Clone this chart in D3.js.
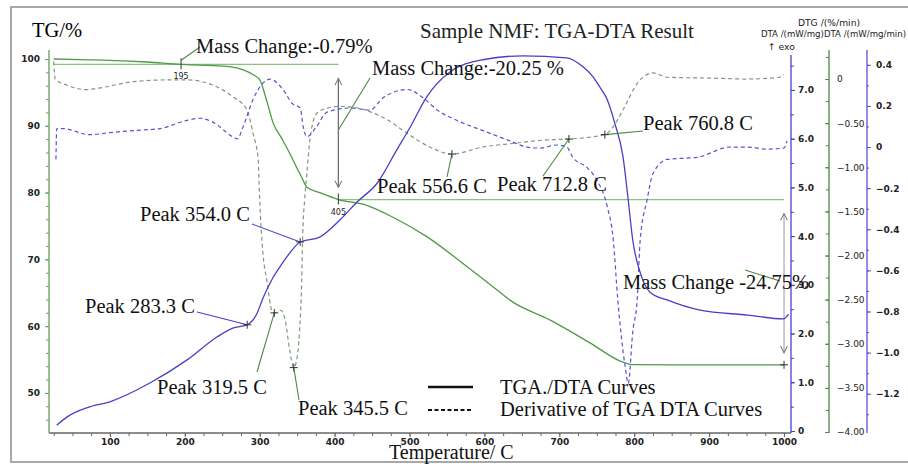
<!DOCTYPE html>
<html>
<head>
<meta charset="utf-8">
<script src="https://cdn.jsdelivr.net/npm/d3@7"></script>
<style>
  body { margin: 0; background: #fff; }
  svg { display: block; }
</style>
</head>
<body>
<svg id="chart" width="908" height="464"></svg>
<script>
// ---- Sample NMF: thermogravimetric / differential thermal analysis ----

// TG (mass %, solid green)
const tgTemp = [25, 60, 100, 150, 195, 230, 260, 280, 292, 300, 310, 318, 330, 340, 350, 356, 363, 380, 405, 443, 478, 523, 577, 617, 634, 688, 741, 785, 797, 850, 900, 950, 1000];
const tgMass = [100.0, 99.9, 99.8, 99.55, 99.21, 99.05, 98.85, 98.3, 97.6, 96.9, 93.5, 90.4, 88.0, 85.9, 83.6, 82.3, 80.8, 80.0, 78.96, 78.1, 76.3, 73.4, 68.9, 65.4, 63.9, 60.9, 57.5, 54.6, 54.25, 54.2, 54.2, 54.2, 54.21];

// DTA (mW/mg, solid blue)
const dtaTemp = [29, 43, 70, 100, 154, 203, 243, 264, 283.3, 296, 305, 316, 327, 340, 354.0, 380, 407, 430, 457, 483, 501, 523, 554, 598, 652, 710, 732, 745, 754, 764, 774, 785, 792, 798, 808, 821, 844, 888, 951, 999, 1006];
const dtaValue = [0.12, 0.29, 0.48, 0.60, 0.99, 1.46, 1.93, 2.11, 2.18, 2.40, 2.75, 3.10, 3.37, 3.65, 3.88, 3.98, 4.33, 4.70, 5.09, 5.77, 6.24, 6.86, 7.37, 7.62, 7.70, 7.66, 7.47, 7.27, 7.06, 6.80, 6.32, 5.63, 4.74, 3.92, 3.25, 2.85, 2.69, 2.48, 2.38, 2.30, 2.40];

// DTG (%/min, dashed green)
const dtgTemp = [25, 27, 43, 69, 87, 131, 176, 203, 238, 264, 283, 291, 298, 300, 304, 310, 316, 319.5, 328, 334, 340, 345.5, 350, 353, 356, 357.5, 360, 363, 367, 376, 390, 407, 425, 447, 470, 496, 527, 556.6, 598, 638, 683, 712.8, 760.8, 772, 785, 804, 825, 844, 905, 950, 994, 1000];
const dtgValue = [0.20, 0.0, -0.07, -0.12, -0.10, -0.03, -0.01, -0.01, -0.07, -0.20, -0.35, -0.61, -0.92, -1.37, -1.94, -2.31, -2.62, -2.65, -2.62, -2.73, -3.07, -3.27, -3.15, -2.88, -2.31, -1.74, -1.37, -1.07, -0.69, -0.39, -0.33, -0.31, -0.32, -0.37, -0.46, -0.61, -0.77, -0.85, -0.77, -0.73, -0.69, -0.68, -0.63, -0.54, -0.35, -0.05, 0.07, 0.02, 0.01, 0.0, 0.02, 0.05];

// DDTA (mW/mg/min, dashed blue)
const ddtaTemp = [28, 29, 37, 73, 100, 131, 167, 203, 220, 238, 264, 270, 278, 291, 304, 314, 331, 344, 354, 358, 363, 376, 390, 421, 447, 465, 497, 518, 537, 563, 598, 634, 657, 674, 697, 710, 718, 737, 750, 764, 772, 778, 788, 792, 798, 804, 808, 817, 825, 844, 884, 928, 951, 977, 1000, 1004];
const ddtaValue = [-0.06, 0.09, 0.09, 0.06, 0.07, 0.08, 0.09, 0.13, 0.14, 0.12, 0.05, 0.04, 0.10, 0.23, 0.31, 0.33, 0.28, 0.21, 0.19, 0.10, 0.05, 0.10, 0.17, 0.19, 0.18, 0.24, 0.28, 0.24, 0.18, 0.13, 0.08, 0.03, 0.0, -0.005, 0.01, 0.0, -0.05, -0.10, -0.16, -0.29, -0.45, -0.74, -1.07, -1.15, -0.90, -0.74, -0.45, -0.26, -0.13, -0.06, -0.05, 0.0, 0.0, -0.01, -0.005, 0.03];

// Peak temperatures and mass-change steps
const dtaPeaks = [283.3, 354.0];
const dtgPeaks = [319.5, 345.5, 556.6, 712.8, 760.8];
const stepTemps = [195, 405, 1000];
const stepChanges = [-0.79, -20.25, -24.75];

// Tick values
const xMajorTicks = [100, 200, 300, 400, 500, 600, 700, 800, 900, 1000];
const tgMajorTicks = [50, 60, 70, 80, 90, 100];
const dtaMajorTicks = [0, 1, 2, 3, 4, 5, 6, 7];
const dtgMajorTicks = [0, -0.5, -1, -1.5, -2, -2.5, -3, -3.5, -4];
const ddtaMajorTicks = [0.4, 0.2, 0, -0.2, -0.4, -0.6, -0.8, -1.0, -1.2];

// ---- drawing ----
const svg = d3.select("#chart");
const SERIF = "'Liberation Serif', 'DejaVu Serif', serif";
const SANS = "'DejaVu Sans', Verdana, sans-serif";

const C_TG = "#4f9a45", C_DTG = "#7d9a7d", C_DTA = "#4a3fc4", C_DDTA = "#5c52d0";

const x = d3.scaleLinear().domain([18.7, 1009.3]).range([49, 791]);
const yTG = d3.scaleLinear().domain([44.0, 101.35]).range([433, 50]);
const yDTA = d3.scaleLinear().domain([-0.041, 7.82]).range([433, 50]);
const yDTG = d3.scaleLinear().domain([-4.011, 0.329]).range([433, 50]);
const yDDTA = d3.scaleLinear().domain([-1.391, 0.472]).range([433, 50]);

// outer frame
svg.append("rect").attr("x", 11).attr("y", 7).attr("width", 1000).attr("height", 455)
  .attr("fill", "none").attr("stroke", "#a8a8a8").attr("stroke-width", 2);

function styleAxis(g, color) {
  g.selectAll("path.domain").remove();
  g.selectAll("line").attr("stroke", color);
  g.selectAll("text").attr("fill", "#222").attr("font-family", SANS)
    .attr("font-size", 9).attr("font-weight", "bold");
}

// x axis
const gx = svg.append("g").attr("transform", "translate(0,433)");
gx.append("g").call(d3.axisBottom(x).tickValues(d3.range(25, 1001, 25)).tickSize(3).tickFormat(""))
  .call(g => styleAxis(g, "#666"));
gx.append("g").call(d3.axisBottom(x).tickValues(xMajorTicks).tickSize(4).tickPadding(2).tickFormat(d3.format("d")))
  .call(g => styleAxis(g, "#666"));
gx.append("line").attr("x1", 49).attr("x2", 791).attr("stroke", "#666").attr("stroke-width", 1.5);

// TG axis (left)
const gtg = svg.append("g").attr("transform", "translate(49,0)");
gtg.append("g").call(d3.axisLeft(yTG).tickValues(d3.range(46, 101, 2)).tickSize(3).tickFormat(""))
  .call(g => styleAxis(g, "#6a9a60"));
gtg.append("g").call(d3.axisLeft(yTG).tickValues(tgMajorTicks).tickSize(4).tickPadding(5))
  .call(g => styleAxis(g, "#6a9a60"));
gtg.append("line").attr("y1", 50).attr("y2", 433).attr("stroke", "#7aaa70").attr("stroke-width", 1.5);

// DTA axis
const gdta = svg.append("g").attr("transform", "translate(791,0)");
gdta.append("g").call(d3.axisRight(yDTA).tickValues(d3.range(0.5, 7.6, 0.5)).tickSize(3).tickFormat(""))
  .call(g => styleAxis(g, C_DTA));
gdta.append("g").call(d3.axisRight(yDTA).tickValues(dtaMajorTicks).tickSize(4).tickPadding(3)
    .tickFormat(d => d === 0 ? "0" : d3.format(".1f")(d)))
  .call(g => styleAxis(g, C_DTA));
gdta.append("line").attr("y1", 55).attr("y2", 433).attr("stroke", C_DTA).attr("stroke-width", 1.3);

// DTG axis
const gdtg = svg.append("g").attr("transform", "translate(829,0)");
gdtg.append("g").call(d3.axisRight(yDTG).tickValues(d3.range(0.25, -4.0, -0.25)).tickSize(-3).tickFormat(""))
  .call(g => styleAxis(g, "#4a8a40"));
gdtg.append("g").call(d3.axisRight(yDTG).tickValues(dtgMajorTicks).tickSize(-4).tickPadding(8)
    .tickFormat(d => d === 0 ? "0" : d3.format(".2f")(d)))
  .call(g => styleAxis(g, "#4a8a40"));
gdtg.selectAll("text").attr("font-weight", "normal");
gdtg.append("line").attr("y1", 50).attr("y2", 433).attr("stroke", "#4a8a40").attr("stroke-width", 1.3);

// DDTA axis
const gddta = svg.append("g").attr("transform", "translate(867,0)");
gddta.append("g").call(d3.axisRight(yDDTA).tickValues(d3.range(0.4, -1.35, -0.1)).tickSize(2).tickFormat(""))
  .call(g => styleAxis(g, C_DDTA));
gddta.append("g").call(d3.axisRight(yDDTA).tickValues(ddtaMajorTicks).tickSize(4).tickPadding(5)
    .tickFormat(d => Math.abs(d) < 1e-9 ? "0" : d3.format(".1f")(d)))
  .call(g => styleAxis(g, C_DDTA));
gddta.append("line").attr("y1", 50).attr("y2", 433).attr("stroke", C_DDTA).attr("stroke-width", 1.3);

// axis headings
svg.append("text").attr("x", 32).attr("y", 37).attr("font-family", SERIF).attr("font-size", 20.5).text("TG/%");
svg.append("text").attr("x", 829).attr("y", 26).attr("text-anchor", "middle").attr("font-family", SANS)
  .attr("font-size", 9.2).attr("fill", "#222").text("DTG /(%/min)");
svg.append("text").attr("x", 906).attr("y", 37).attr("text-anchor", "end").attr("font-family", SANS)
  .attr("font-size", 8.6).attr("fill", "#222").text("DTA /(mW/mg)DTA /(mW/mg/min)");
svg.append("text").attr("x", 768).attr("y", 50).attr("font-family", SANS).attr("font-size", 9.2)
  .attr("fill", "#222").text("↑ exo");

// title
svg.append("text").attr("x", 420).attr("y", 38).attr("font-family", SERIF).attr("font-size", 21)
  .attr("fill", "#222").text("Sample NMF: TGA-DTA Result");

// mass-change levels
const tgAt = t => tgMass[tgTemp.indexOf(t)];
const lev1 = tgAt(stepTemps[0]), lev2 = tgAt(stepTemps[1]), lev3 = tgAt(stepTemps[2]);
svg.append("line").attr("x1", x(tgTemp[0])).attr("x2", x(stepTemps[1]))
  .attr("y1", yTG(lev1)).attr("y2", yTG(lev1)).attr("stroke", "#8cc080").attr("stroke-width", 1.3);
svg.append("line").attr("x1", x(stepTemps[1])).attr("x2", x(stepTemps[2]))
  .attr("y1", yTG(lev2)).attr("y2", yTG(lev2)).attr("stroke", "#8cc080").attr("stroke-width", 1.3);

// double arrows
const defs = svg.append("defs");
defs.append("marker").attr("id", "ah").attr("viewBox", "0 0 10 10").attr("refX", 9).attr("refY", 5)
  .attr("markerWidth", 7).attr("markerHeight", 7).attr("orient", "auto-start-reverse")
  .append("path").attr("d", "M1,1 L9,5 L1,9").attr("fill", "none").attr("stroke", "#777").attr("stroke-width", 1.2);
function dblArrow(t, a, b, color) {
  svg.append("line").attr("x1", x(t)).attr("x2", x(t)).attr("y1", yTG(a) + 14).attr("y2", yTG(b) - 12)
    .attr("stroke", color).attr("stroke-width", 1.2)
    .attr("marker-start", "url(#ah)").attr("marker-end", "url(#ah)");
}
dblArrow(stepTemps[1], lev1, lev2, "#666");
dblArrow(stepTemps[2], lev2, lev3, "#aaa");

// curves
function series(temps, vals, yScale, color, dashed, width) {
  const pts = temps.map((t, i) => [t, vals[i]]);
  svg.append("path").datum(pts)
    .attr("d", d3.line().x(d => x(d[0])).y(d => yScale(d[1])).curve(d3.curveMonotoneX))
    .attr("fill", "none").attr("stroke", color).attr("stroke-width", width)
    .attr("stroke-dasharray", dashed ? "4,3" : null);
}
series(dtgTemp, dtgValue, yDTG, C_DTG, true, 1.2);
series(ddtaTemp, ddtaValue, yDDTA, C_DDTA, true, 1.2);
series(tgTemp, tgMass, yTG, C_TG, false, 1.3);
series(dtaTemp, dtaValue, yDTA, C_DTA, false, 1.3);

// markers
function plus(px, py) {
  svg.append("path").attr("d", `M${px - 4},${py}H${px + 4}M${px},${py - 4}V${py + 4}`)
    .attr("stroke", "#333").attr("stroke-width", 1);
}
function vtick(px, py, label) {
  svg.append("line").attr("x1", px).attr("x2", px).attr("y1", py - 6).attr("y2", py + 5)
    .attr("stroke", "#333").attr("stroke-width", 1);
  svg.append("text").attr("x", px).attr("y", py + 15).attr("text-anchor", "middle")
    .attr("font-family", SANS).attr("font-size", 8).attr("fill", "#222").text(label);
}
vtick(x(stepTemps[0]), yTG(lev1), String(stepTemps[0]));
vtick(x(stepTemps[1]), yTG(lev2), String(stepTemps[1]));
plus(x(stepTemps[2]), yTG(lev3));

function label(txt, tx, ty, fromX, fromY, toX, toY, color) {
  svg.append("line").attr("x1", fromX).attr("y1", fromY).attr("x2", toX).attr("y2", toY)
    .attr("stroke", color).attr("stroke-width", 1.1);
  svg.append("text").attr("x", tx).attr("y", ty).attr("font-family", SERIF).attr("font-size", 20.5)
    .attr("fill", "#111").text(txt);
}

// DTA peaks
const dtaLayout = [
  { tx: 85, ty: 313, lx: 197, ly: 312 },
  { tx: 140, ty: 221, lx: 252, ly: 224 }
];
dtaPeaks.forEach((t, i) => {
  const px = x(t), py = yDTA(dtaValue[dtaTemp.indexOf(t)]);
  const L = dtaLayout[i];
  label(`Peak ${t.toFixed(1)} C`, L.tx, L.ty, L.lx, L.ly, px, py, C_DTA);
  plus(px, py);
});

// DTG peaks
const dtgLayout = [
  { tx: 157, ty: 394, lx: 257, ly: 372 },
  { tx: 298, ty: 415, lx: 299, ly: 400 },
  { tx: 377, ty: 193, lx: 447, ly: 177 },
  { tx: 497, ty: 191, lx: 543, ly: 176 },
  { tx: 643, ty: 130, lx: 643, ly: 131 }
];
dtgPeaks.forEach((t, i) => {
  const px = x(t), py = yDTG(dtgValue[dtgTemp.indexOf(t)]);
  const L = dtgLayout[i];
  label(`Peak ${t.toFixed(1)} C`, L.tx, L.ty, L.lx, L.ly, px, py, "#4a8a40");
  plus(px, py);
});

// mass-change labels
label(`Mass Change:${stepChanges[0].toFixed(2)}%`, 196, 53, 200, 47, x(stepTemps[0]), yTG(lev1) - 4, "#4a8a40");
label(`Mass Change:${stepChanges[1].toFixed(2)} %`, 372, 75, 370, 78, x(stepTemps[1]), 130, "#4a8a40");
label(`Mass Change ${stepChanges[2].toFixed(2)}%`, 623, 289, 745, 270, 780, 281, "#4a8a40");

// legend
svg.append("line").attr("x1", 428).attr("x2", 473).attr("y1", 387).attr("y2", 387)
  .attr("stroke", "#111").attr("stroke-width", 2.5);
svg.append("text").attr("x", 500).attr("y", 394).attr("font-family", SERIF).attr("font-size", 20.5)
  .attr("fill", "#111").text("TGA./DTA Curves");
svg.append("line").attr("x1", 428).attr("x2", 473).attr("y1", 410).attr("y2", 410)
  .attr("stroke", "#111").attr("stroke-width", 2).attr("stroke-dasharray", "4,2.5");
svg.append("text").attr("x", 500).attr("y", 416).attr("font-family", SERIF).attr("font-size", 20.5)
  .attr("fill", "#111").text("Derivative of TGA DTA Curves");

// x-axis title
svg.append("text").attr("x", 389).attr("y", 459).attr("font-family", SERIF).attr("font-size", 20)
  .attr("fill", "#111").text("Temperature/ C");
</script>
</body>
</html>
